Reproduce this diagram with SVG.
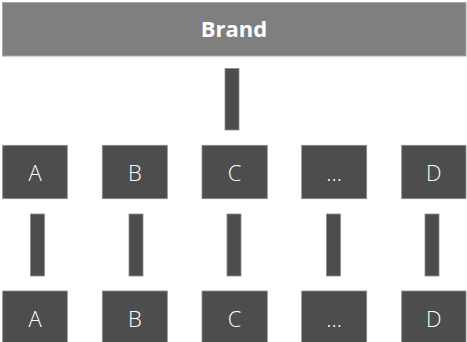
<svg xmlns="http://www.w3.org/2000/svg" width="467" height="342" viewBox="0 0 467 342">
<style>
.bar{fill:#7f7f7f;stroke:#a8a8a8;stroke-width:1}
.box{fill:#4d4d4d;stroke:#8c8c8c;stroke-width:0.8}
.con{fill:#4d4d4d;stroke:#8c8c8c;stroke-width:0.8}
.t{font-family:"Open Sans","DejaVu Sans",sans-serif;fill:#ffffff;text-anchor:middle}
.lbl{font-size:22px;font-weight:300}
.brand{font-size:22px;font-weight:700}
</style>
<rect width="467" height="342" fill="#ffffff"/>
<g id="brand">
<rect class="bar" x="2.5" y="2.5" width="463.5" height="53.5"/>
<text class="t brand" x="234" y="37.3">Brand</text>
</g>
<g id="connectors">
<rect class="con" x="225" y="68.5" width="14" height="61.5"/>
<rect class="con" x="30.5" y="214" width="14" height="62"/>
<rect class="con" x="129" y="214" width="14" height="62"/>
<rect class="con" x="227" y="214" width="14" height="62"/>
<rect class="con" x="326.5" y="214" width="14" height="62"/>
<rect class="con" x="425" y="214" width="14" height="62"/>
</g>
<g id="a1"><rect class="box" x="2.7" y="145.3" width="64.6" height="53.4"/><text class="t lbl" x="35" y="180.7">A</text></g>
<g id="b1"><rect class="box" x="102.3" y="145.3" width="65" height="53.4"/><text class="t lbl" x="134.8" y="180.7">B</text></g>
<g id="c1"><rect class="box" x="202" y="145.3" width="65.3" height="53.4"/><text class="t lbl" x="234.6" y="180.7">C</text></g>
<g id="e1"><rect class="box" x="301.7" y="145.3" width="65" height="53.4"/><text class="t lbl" x="334.2" y="180.7">...</text></g>
<g id="d1"><rect class="box" x="401.7" y="145.3" width="64.3" height="53.4"/><text class="t lbl" x="433.8" y="180.7">D</text></g>
<g id="a2"><rect class="box" x="2.7" y="291" width="64.6" height="53.4"/><text class="t lbl" x="35" y="326.7">A</text></g>
<g id="b2"><rect class="box" x="102.3" y="291" width="65" height="53.4"/><text class="t lbl" x="134.8" y="326.7">B</text></g>
<g id="c2"><rect class="box" x="202" y="291" width="65.3" height="53.4"/><text class="t lbl" x="234.6" y="326.7">C</text></g>
<g id="e2"><rect class="box" x="301.7" y="291" width="65" height="53.4"/><text class="t lbl" x="334.2" y="326.7">...</text></g>
<g id="d2"><rect class="box" x="401.7" y="291" width="64.3" height="53.4"/><text class="t lbl" x="433.8" y="326.7">D</text></g>
</svg>
